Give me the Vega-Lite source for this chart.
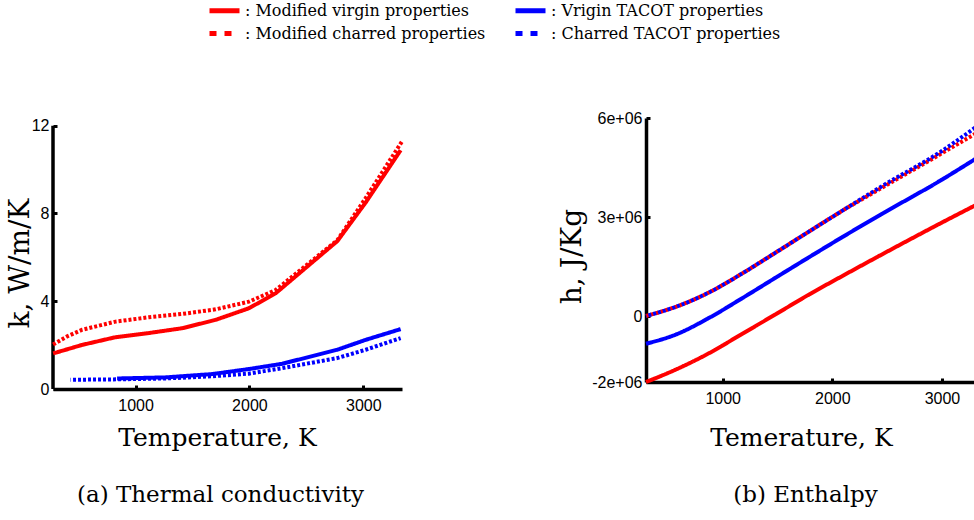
{
  "$schema": "https://vega.github.io/schema/vega-lite/v6.json",
  "background": "white",
  "padding": {"left": 6, "top": 0, "right": 0, "bottom": 0},
  "datasets": {
    "k": [
      {"series": "Modified virgin properties", "T": 276, "v": 1.62},
      {"series": "Modified virgin properties", "T": 531, "v": 2.01},
      {"series": "Modified virgin properties", "T": 824, "v": 2.36},
      {"series": "Modified virgin properties", "T": 1117, "v": 2.55},
      {"series": "Modified virgin properties", "T": 1410, "v": 2.77},
      {"series": "Modified virgin properties", "T": 1703, "v": 3.15},
      {"series": "Modified virgin properties", "T": 1996, "v": 3.68},
      {"series": "Modified virgin properties", "T": 2230, "v": 4.36},
      {"series": "Modified virgin properties", "T": 2772, "v": 6.74},
      {"series": "Modified virgin properties", "T": 3021, "v": 8.5},
      {"series": "Modified virgin properties", "T": 3328, "v": 10.88},
      {"series": "Modified charred properties", "T": 276, "v": 2.03},
      {"series": "Modified charred properties", "T": 400, "v": 2.4},
      {"series": "Modified charred properties", "T": 531, "v": 2.7},
      {"series": "Modified charred properties", "T": 824, "v": 3.07},
      {"series": "Modified charred properties", "T": 1117, "v": 3.27},
      {"series": "Modified charred properties", "T": 1410, "v": 3.42},
      {"series": "Modified charred properties", "T": 1703, "v": 3.63},
      {"series": "Modified charred properties", "T": 1996, "v": 3.98},
      {"series": "Modified charred properties", "T": 2230, "v": 4.51},
      {"series": "Modified charred properties", "T": 2772, "v": 6.78},
      {"series": "Modified charred properties", "T": 3021, "v": 8.7},
      {"series": "Modified charred properties", "T": 3342, "v": 11.3},
      {"series": "Vrigin TACOT properties", "T": 838, "v": 0.48},
      {"series": "Vrigin TACOT properties", "T": 1264, "v": 0.53},
      {"series": "Vrigin TACOT properties", "T": 1673, "v": 0.68},
      {"series": "Vrigin TACOT properties", "T": 1996, "v": 0.91},
      {"series": "Vrigin TACOT properties", "T": 2288, "v": 1.15},
      {"series": "Vrigin TACOT properties", "T": 2772, "v": 1.79},
      {"series": "Vrigin TACOT properties", "T": 3021, "v": 2.24},
      {"series": "Vrigin TACOT properties", "T": 3328, "v": 2.73},
      {"series": "Charred TACOT properties", "T": 429, "v": 0.42},
      {"series": "Charred TACOT properties", "T": 838, "v": 0.44},
      {"series": "Charred TACOT properties", "T": 1264, "v": 0.48},
      {"series": "Charred TACOT properties", "T": 1673, "v": 0.58},
      {"series": "Charred TACOT properties", "T": 1996, "v": 0.7},
      {"series": "Charred TACOT properties", "T": 2288, "v": 0.95},
      {"series": "Charred TACOT properties", "T": 2772, "v": 1.41},
      {"series": "Charred TACOT properties", "T": 3021, "v": 1.79},
      {"series": "Charred TACOT properties", "T": 3328, "v": 2.32}
    ],
    "h": [
      {"series": "Modified virgin properties", "T": 300, "v": -2000000},
      {"series": "Modified virgin properties", "T": 574, "v": -1620000},
      {"series": "Modified virgin properties", "T": 879, "v": -1120000},
      {"series": "Modified virgin properties", "T": 1183, "v": -530000},
      {"series": "Modified virgin properties", "T": 1487, "v": 60000},
      {"series": "Modified virgin properties", "T": 1792, "v": 660000},
      {"series": "Modified virgin properties", "T": 2096, "v": 1220000},
      {"series": "Modified virgin properties", "T": 2461, "v": 1880000},
      {"series": "Modified virgin properties", "T": 2999, "v": 2830000},
      {"series": "Modified virgin properties", "T": 3320, "v": 3380000},
      {"series": "Modified charred properties", "T": 300, "v": 0},
      {"series": "Modified charred properties", "T": 574, "v": 280000},
      {"series": "Modified charred properties", "T": 879, "v": 720000},
      {"series": "Modified charred properties", "T": 1183, "v": 1300000},
      {"series": "Modified charred properties", "T": 1487, "v": 1930000},
      {"series": "Modified charred properties", "T": 1792, "v": 2570000},
      {"series": "Modified charred properties", "T": 2096, "v": 3200000},
      {"series": "Modified charred properties", "T": 2461, "v": 3900000},
      {"series": "Modified charred properties", "T": 2999, "v": 4930000},
      {"series": "Modified charred properties", "T": 3320, "v": 5550000},
      {"series": "Vrigin TACOT properties", "T": 300, "v": -840000},
      {"series": "Vrigin TACOT properties", "T": 574, "v": -560000},
      {"series": "Vrigin TACOT properties", "T": 879, "v": -50000},
      {"series": "Vrigin TACOT properties", "T": 1183, "v": 550000},
      {"series": "Vrigin TACOT properties", "T": 1487, "v": 1170000},
      {"series": "Vrigin TACOT properties", "T": 1792, "v": 1790000},
      {"series": "Vrigin TACOT properties", "T": 2096, "v": 2400000},
      {"series": "Vrigin TACOT properties", "T": 2461, "v": 3110000},
      {"series": "Vrigin TACOT properties", "T": 2999, "v": 4130000},
      {"series": "Vrigin TACOT properties", "T": 3320, "v": 4790000},
      {"series": "Charred TACOT properties", "T": 300, "v": 0},
      {"series": "Charred TACOT properties", "T": 574, "v": 280000},
      {"series": "Charred TACOT properties", "T": 879, "v": 720000},
      {"series": "Charred TACOT properties", "T": 1183, "v": 1300000},
      {"series": "Charred TACOT properties", "T": 1487, "v": 1930000},
      {"series": "Charred TACOT properties", "T": 1792, "v": 2570000},
      {"series": "Charred TACOT properties", "T": 2096, "v": 3200000},
      {"series": "Charred TACOT properties", "T": 2461, "v": 3950000},
      {"series": "Charred TACOT properties", "T": 2999, "v": 5000000},
      {"series": "Charred TACOT properties", "T": 3320, "v": 5750000}
    ]
  },
  "config": {
    "view": {"stroke": null},
    "axis": {
      "grid": false,
      "domainColor": "black",
      "domainWidth": 3.5,
      "tickColor": "black",
      "tickWidth": 3,
      "tickSize": -4,
      "labelFont": "Liberation Sans",
      "labelFontSize": 16,
      "labelColor": "black",
      "titleFont": "DejaVu Serif",
      "titleFontWeight": "normal",
      "titleColor": "black"
    },
    "legend": {
      "title": null,
      "orient": "none",
      "legendX": 161,
      "legendY": -118,
      "direction": "horizontal",
      "columns": 2,
      "columnPadding": 19,
      "rowPadding": 2,
      "symbolType": "M-1.875,0H1.875",
      "symbolSize": 256,
      "symbolStrokeWidth": 5,
      "labelOffset": 10,
      "labelFont": "DejaVu Serif",
      "labelFontSize": 16,
      "labelColor": "black",
      "labelLimit": 400
    },
    "title": {"font": "DejaVu Serif", "fontWeight": "normal", "color": "black", "fontSize": 23}
  },
  "spacing": 147,
  "hconcat": [
    {
      "width": 349,
      "height": 271,
      "title": {"text": "(a) Thermal conductivity", "orient": "bottom", "offset": 34, "dx": -7},
      "layer": [
        {
          "data": {"values": [{"T": 275, "lo": 0, "hi": 12}]},
          "mark": {"type": "rule", "color": "black", "strokeWidth": 3.5},
          "encoding": {
            "x": {"field": "T", "type": "quantitative", "scale": {"domain": [275, 3340], "nice": false, "zero": false}},
            "y": {"field": "lo", "type": "quantitative", "scale": {"domain": [0, 12.35], "nice": false}},
            "y2": {"field": "hi"}
          }
        },
        {
          "data": {"name": "k"},
          "transform": [{"filter": "datum.series === 'Modified virgin properties' || datum.series === 'Vrigin TACOT properties'"}],
          "mark": {"type": "line", "strokeWidth": 4},
          "encoding": {
            "x": {"field": "T", "type": "quantitative", "scale": {"domain": [275, 3340], "nice": false, "zero": false},
              "axis": {"title": "Temperature, K", "values": [1000, 2000, 3000], "format": "d", "titleFontSize": 25, "titlePadding": 12, "labelPadding": 12, "titleX": 164}},
            "y": {"field": "v", "type": "quantitative", "scale": {"domain": [0, 12.35], "nice": false},
              "axis": {"title": "k, W/m/K", "values": [0, 4, 8, 12], "domain": false, "labelPadding": 8, "titleFontSize": 28, "titlePadding": -3, "titleY": 145}},
            "color": {"field": "series", "type": "nominal",
              "scale": {"domain": ["Modified virgin properties", "Vrigin TACOT properties", "Modified charred properties", "Charred TACOT properties"], "range": ["#ff0000", "#0000ff", "#ff0000", "#0000ff"]},
              "legend": {"labelExpr": "': ' + datum.label"}},
            "strokeDash": {"field": "series", "type": "nominal",
              "scale": {"domain": ["Modified virgin properties", "Vrigin TACOT properties", "Modified charred properties", "Charred TACOT properties"], "range": [[1, 0], [1, 0], [7, 8], [7, 8]]},
              "legend": {"labelExpr": "': ' + datum.label"}}
          }
        },
        {
          "data": {"name": "k"},
          "transform": [{"filter": "datum.series === 'Modified charred properties'"}],
          "mark": {"type": "line", "strokeWidth": 4, "strokeDash": [3, 2]},
          "encoding": {
            "x": {"field": "T", "type": "quantitative"},
            "y": {"field": "v", "type": "quantitative"},
            "color": {"field": "series", "type": "nominal"}
          }
        },
        {
          "data": {"name": "k"},
          "transform": [{"filter": "datum.series === 'Charred TACOT properties'"}],
          "mark": {"type": "line", "strokeWidth": 4, "strokeDash": [3, 2], "strokeDashOffset": 2.5},
          "encoding": {
            "x": {"field": "T", "type": "quantitative"},
            "y": {"field": "v", "type": "quantitative"},
            "color": {"field": "series", "type": "nominal"}
          }
        }
      ]
    },
    {
      "width": 331,
      "height": 264,
      "title": {"text": "(b) Enthalpy", "orient": "bottom", "offset": 34, "dx": -6},
      "layer": [
        {
          "data": {"name": "h"},
          "transform": [{"filter": "datum.series === 'Modified virgin properties' || datum.series === 'Vrigin TACOT properties'"}],
          "mark": {"type": "line", "strokeWidth": 4, "interpolate": "monotone"},
          "encoding": {
            "x": {"field": "T", "type": "quantitative", "scale": {"domain": [300, 3320], "nice": false, "zero": false},
              "axis": {"title": "Temerature, K", "values": [1000, 2000, 3000], "format": "d", "titleFontSize": 25, "titlePadding": 19, "labelPadding": 12, "titleX": 155}},
            "y": {"field": "v", "type": "quantitative", "scale": {"domain": [-2000000, 6000000], "nice": false},
              "axis": {"title": "h, J/Kg", "values": [-2000000, 0, 3000000, 6000000], "labelExpr": "datum.value == 0 ? '0' : (datum.value / 1000000) + 'e+06'", "labelPadding": 8, "titleFontSize": 28, "titlePadding": 5, "titleY": 138}},
            "color": {"field": "series", "type": "nominal"},
            "strokeDash": {"field": "series", "type": "nominal"}
          }
        },
        {
          "data": {"name": "h"},
          "transform": [{"filter": "datum.series === 'Modified charred properties'"}],
          "mark": {"type": "line", "strokeWidth": 4, "interpolate": "monotone", "strokeDash": [3, 2]},
          "encoding": {
            "x": {"field": "T", "type": "quantitative"},
            "y": {"field": "v", "type": "quantitative"},
            "color": {"field": "series", "type": "nominal"}
          }
        },
        {
          "data": {"name": "h"},
          "transform": [{"filter": "datum.series === 'Charred TACOT properties'"}],
          "mark": {"type": "line", "strokeWidth": 4, "interpolate": "monotone", "strokeDash": [3, 2], "strokeDashOffset": 2.5},
          "encoding": {
            "x": {"field": "T", "type": "quantitative"},
            "y": {"field": "v", "type": "quantitative"},
            "color": {"field": "series", "type": "nominal"}
          }
        }
      ]
    }
  ]
}
